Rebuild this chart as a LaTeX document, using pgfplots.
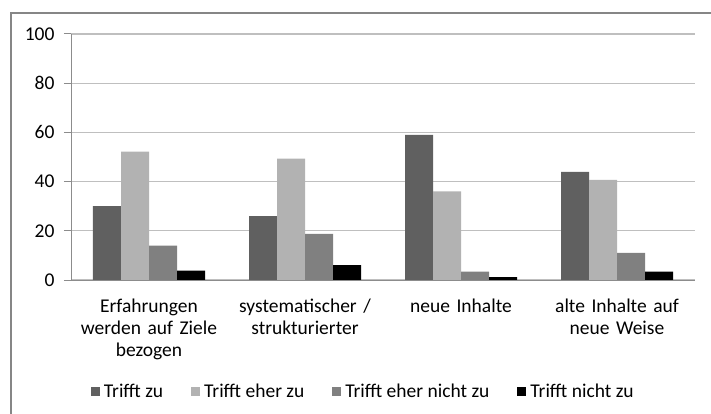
\documentclass[border=0pt]{standalone}
\usepackage{pgfplots}
\pgfplotsset{compat=1.18}
\usepackage{fontspec}
\setmainfont{Carlito}
\definecolor{darkbar}{HTML}{606060}
\definecolor{lightbar}{HTML}{B2B2B2}
\definecolor{midbar}{HTML}{808080}
\definecolor{gridgray}{HTML}{BFBFBF}
\definecolor{axisgray}{HTML}{8C8C8C}
\definecolor{framegray}{HTML}{868686}

\begin{document}
\begin{tikzpicture}
\useasboundingbox (0,0) rectangle (711bp,414bp);
\draw[framegray, line width=1.5bp] (11bp,0) |- (711bp,401bp);
\begin{axis}[
    at={(71bp,134bp)}, anchor=south west,
    scale only axis,
    width=624bp, height=246bp,
    font=\fontsize{19.5bp}{22bp}\selectfont,
    /pgf/number format/assume math mode=true,
    ybar=0pt, bar width=28bp,
    xmin=-0.5, xmax=3.5,
    ymin=0, ymax=100,
    ytick={0,20,40,60,80,100},
    xtick={0,1,2,3},
    xticklabels={{Erfahrungen\\werden auf Ziele\\bezogen},{systematischer /\\strukturierter},{neue Inhalte},{alte Inhalte auf\\neue Weise}},
    xticklabel style={text width=150bp, align=center, anchor=north, yshift=-8bp},
    yticklabel style={anchor=east, xshift=-6bp},
    x tick style={draw=none},
    extra x ticks={-0.5,0.5,1.5,2.5,3.5},
    extra x tick labels={},
    extra x tick style={grid=none, major tick length=7bp, tick align=outside,
        tick style={draw=axisgray, line width=1bp}},
    y tick style={draw=axisgray, line width=1bp},
    major tick length=7bp, tick align=outside,
    axis x line*=bottom, axis y line*=left,
    axis line style={draw=axisgray, line width=1bp},
    ymajorgrids, grid style={draw=gridgray, line width=1.2bp},
    enlarge x limits=false,
    legend style={at={(0.47,-0.455)}, anchor=center, draw=none, fill=none,
        legend columns=-1,
        font=\fontsize{19.5bp}{22bp}\selectfont,
        nodes={inner xsep=4bp},
        /tikz/every odd column/.append style={column sep=0bp},
        /tikz/every even column/.append style={column sep=24bp}},
    legend image code/.code={\fill[#1, draw=none] (0bp,-4.5bp) rectangle (9bp,4.5bp);},
]
\addplot[fill=darkbar, draw=none] coordinates {(0,30) (1,26) (2,59) (3,44)};
\addplot[fill=lightbar, draw=none] coordinates {(0,52.2) (1,49.3) (2,36) (3,40.7)};
\addplot[fill=midbar, draw=none] coordinates {(0,14) (1,18.8) (2,3.4) (3,11)};
\addplot[fill=black, draw=none] coordinates {(0,3.8) (1,6) (2,1.2) (3,3.4)};
\legend{Trifft zu, Trifft eher zu, Trifft eher nicht zu, Trifft nicht zu}
\end{axis}
\end{tikzpicture}
\end{document}
